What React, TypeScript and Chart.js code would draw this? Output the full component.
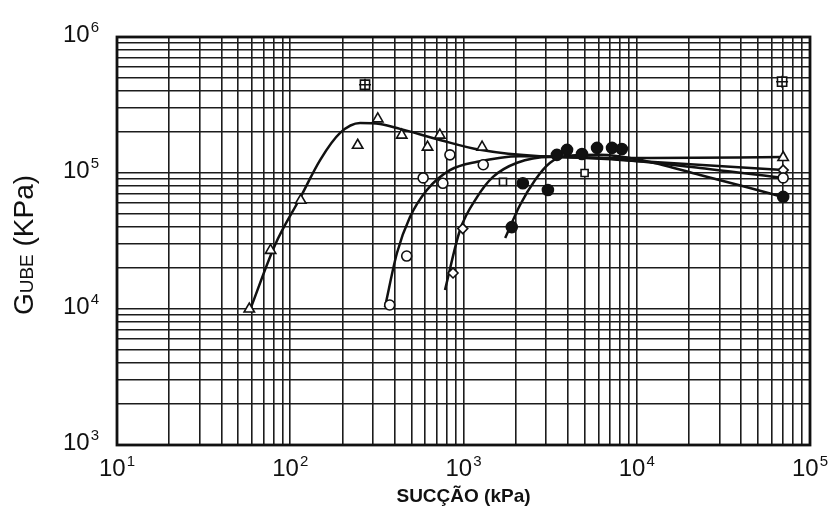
import React, { useEffect, useRef } from "react";
import { Chart, registerables } from "chart.js";

Chart.register(...registerables);

// ---- data (succção kPa, G kPa) ----
const xDecades = [10, 100, 1000, 10000, 100000];
const yDecades = [1000, 10000, 100000, 1000000];

const triX = [58, 77, 115, 245, 320, 440, 620, 730, 1280, 70000];
const triY = [10000, 27000, 63000, 160000, 250000, 190000, 155000, 190000, 155000, 130000];

const circX = [375, 470, 585, 760, 835, 1300, 70000];
const circY = [10700, 24500, 92000, 84000, 136000, 115000, 92000];

const diaX = [870, 990, 70000];
const diaY = [18400, 39000, 105000];

const sqX = [1690, 5000];
const sqY = [86000, 100000];

const dotX = [1900, 2200, 3070, 3460, 3960, 4830, 5900, 7200, 8200, 70000];
const dotY = [40000, 84000, 75000, 136000, 148000, 138000, 153000, 153000, 150000, 66700];

const boxX = [270, 69000];
const boxY = [446000, 469000];

const curveAX = [58.6, 81.7, 114, 149, 194, 253, 330, 430, 731, 1245, 2765, 11900, 69800];
const curveAY = [9840, 29600, 65500, 125000, 197000, 233000, 229000, 211000, 175000, 148000, 133000, 129000, 131000];

const curveBX = [352, 413, 491, 615, 835, 1200, 2120, 6140, 23200, 69800];
const curveBY = [10300, 25800, 47400, 75000, 105000, 121000, 133000, 129000, 109000, 91900];

const curveCX = [782, 955, 1200, 1480, 2040, 3160, 11900, 69800];
const curveCY = [13800, 38100, 66700, 93600, 119000, 131000, 121000, 105000];

const curveDX = [1740, 2120, 2590, 3160, 3850, 6140, 10400, 23200, 45000, 69800];
const curveDY = [33300, 58200, 88900, 119000, 133000, 136000, 125000, 96700, 77600, 66700];

const xTitle = "SUCÇÃO (kPa)";
const yTitleParts = ["G", "UBE", " (KPa)"];

const FONT = "'Liberation Sans', Arial, sans-serif";
const INK = "#111";

const pts = (xs: number[], ys: number[]) => xs.map((x, i) => ({ x, y: ys[i] }));

const logGrid = (min: number, max: number) => {
  const out: { value: number }[] = [];
  for (let e = Math.round(Math.log10(min)); e < Math.round(Math.log10(max)); e++) {
    for (let m = 1; m <= 9; m++) out.push({ value: m * Math.pow(10, e) });
  }
  out.push({ value: max });
  return out;
};

const labelPlugin = {
  id: "labelPlugin",
  afterDraw(chart: any) {
    const { ctx, chartArea: a, scales } = chart;
    ctx.save();
    ctx.strokeStyle = INK;
    ctx.lineWidth = 2.8;
    ctx.strokeRect(a.left, a.top, a.right - a.left, a.bottom - a.top);
    ctx.fillStyle = INK;
    ctx.textBaseline = "alphabetic";
    ctx.textAlign = "left";
    const drawPow = (v: number, x: number, baseY: number, align: string) => {
      const e = String(Math.round(Math.log10(v)));
      ctx.font = `24px ${FONT}`;
      const w1 = ctx.measureText("10").width;
      ctx.font = `15px ${FONT}`;
      const w2 = ctx.measureText(e).width;
      const total = w1 + w2 + 1;
      const start = align === "center" ? x - total / 2 : x - total;
      ctx.font = `24px ${FONT}`;
      ctx.fillText("10", start, baseY);
      ctx.font = `15px ${FONT}`;
      ctx.fillText(e, start + w1 + 1, baseY - 10);
    };
    xDecades.forEach((v) => drawPow(v, scales.x.getPixelForValue(v), a.bottom + 31, "center"));
    yDecades.forEach((v) => drawPow(v, 99, scales.y.getPixelForValue(v) + 5, "right"));

    ctx.font = `bold 19px ${FONT}`;
    ctx.textAlign = "center";
    ctx.textBaseline = "middle";
    ctx.fillText(xTitle, (a.left + a.right) / 2, 497);

    ctx.translate(33, 245);
    ctx.rotate(-Math.PI / 2);
    ctx.textAlign = "left";
    ctx.textBaseline = "alphabetic";
    const sizes = [28, 19, 28];
    let total = 0;
    yTitleParts.forEach((t, i) => {
      ctx.font = `${sizes[i]}px ${FONT}`;
      total += ctx.measureText(t).width;
    });
    let cx = -total / 2;
    yTitleParts.forEach((t, i) => {
      ctx.font = `${sizes[i]}px ${FONT}`;
      ctx.fillText(t, cx, 0);
      cx += ctx.measureText(t).width;
    });
    ctx.restore();
  },
};

const markerDs = (label: string, xs: number[], ys: number[], style: string, r: number, fill: string) => ({
  label,
  data: pts(xs, ys),
  showLine: false,
  pointStyle: style,
  pointRadius: r,
  pointBackgroundColor: fill,
  pointBorderColor: INK,
  pointBorderWidth: 1.6,
  order: 0,
});

const curveDs = (label: string, xs: number[], ys: number[]) => ({
  label,
  data: pts(xs, ys),
  showLine: true,
  pointRadius: 0,
  borderColor: INK,
  borderWidth: 2.5,
  cubicInterpolationMode: "monotone",
  fill: false,
  order: 1,
});

export default function App() {
  const ref = useRef<HTMLCanvasElement | null>(null);
  useEffect(() => {
    if (!ref.current) return;
    const gridOpts = { color: "#1c1c1c", lineWidth: 1.6, drawTicks: false };
    const chart = new Chart(ref.current, {
      type: "scatter",
      data: {
        datasets: [
          markerDs("tri", triX, triY, "triangle", 6, "#fff"),
          markerDs("circ", circX, circY, "circle", 5, "#fff"),
          markerDs("dia", diaX, diaY, "rectRot", 5, "#fff"),
          markerDs("sq", sqX, sqY, "rect", 5, "#fff"),
          markerDs("dot", dotX, dotY, "circle", 5.5, INK),
          markerDs("boxCross", boxX, boxY, "cross", 6, "#fff"),
          markerDs("box", boxX, boxY, "rect", 6.5, "#fff"),
          curveDs("A", curveAX, curveAY),
          curveDs("B", curveBX, curveBY),
          curveDs("C", curveCX, curveCY),
          curveDs("D", curveDX, curveDY),
        ] as any,
      },
      options: {
        animation: false,
        responsive: true,
        maintainAspectRatio: false,
        layout: { padding: { left: 117, top: 37, right: 18, bottom: 73 } },
        plugins: { legend: { display: false }, tooltip: { enabled: false } },
        scales: {
          x: {
            type: "logarithmic",
            min: 10,
            max: 100000,
            grid: gridOpts,
            border: { display: false },
            ticks: { display: false },
            afterBuildTicks: (s: any) => {
              s.ticks = logGrid(10, 100000);
            },
          },
          y: {
            type: "logarithmic",
            min: 1000,
            max: 1000000,
            grid: gridOpts,
            border: { display: false },
            ticks: { display: false },
            afterBuildTicks: (s: any) => {
              s.ticks = logGrid(1000, 1000000);
            },
          },
        },
      } as any,
      plugins: [labelPlugin],
    });
    return () => chart.destroy();
  }, []);
  return (
    <div style={{ position: "fixed", left: 0, top: 0, width: 828, height: 518, background: "#fff" }}>
      <canvas ref={ref} />
    </div>
  );
}
